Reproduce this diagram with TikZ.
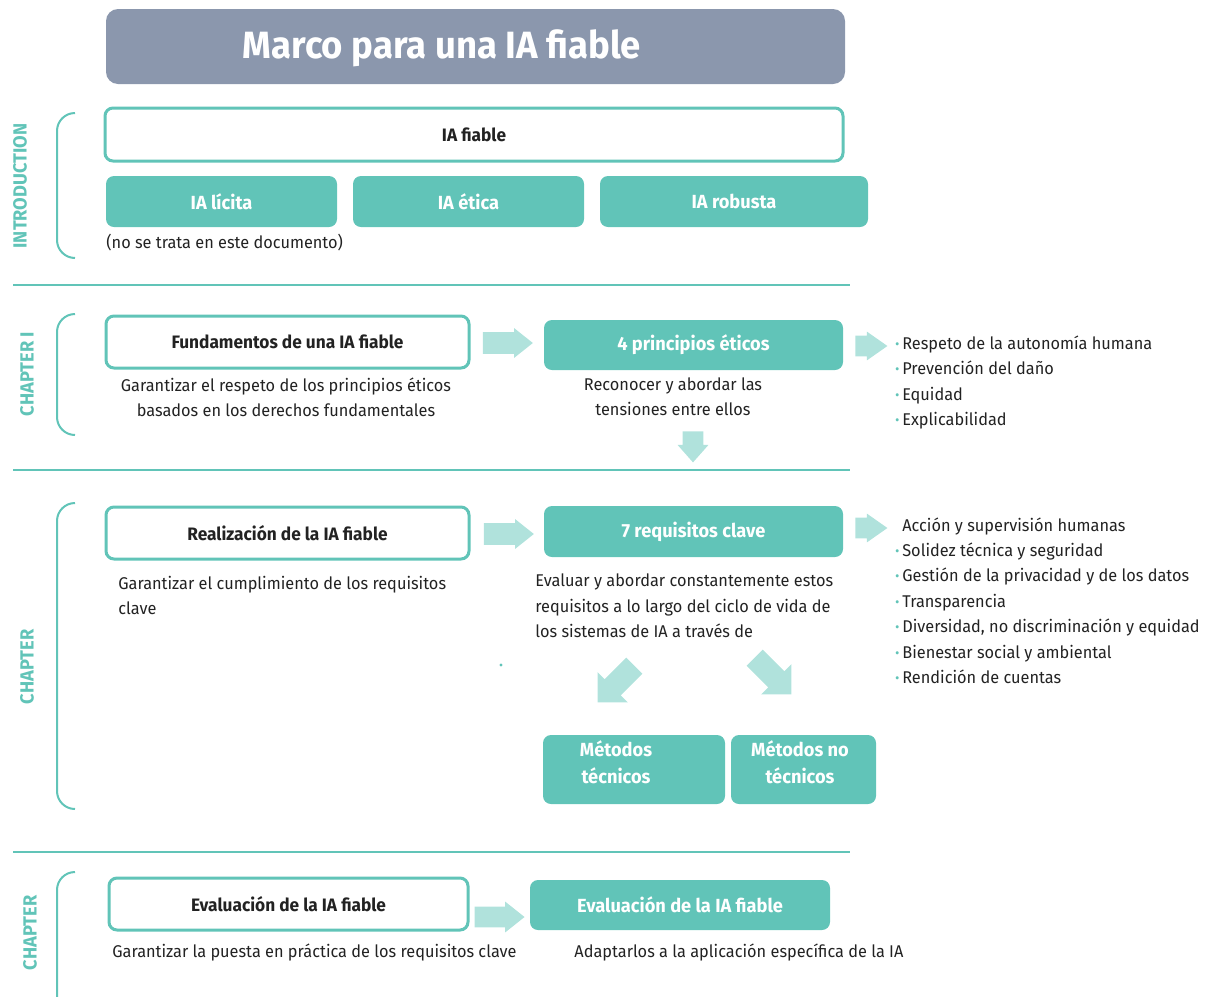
\documentclass[tikz,border=0pt]{standalone}
\usepackage{fontspec}
\setmainfont[FakeStretch=0.96]{Fira Sans}
\usetikzlibrary{shapes.arrows}

\definecolor{tealc}{HTML}{61C4B8}
\definecolor{lightc}{HTML}{B0E2DC}
\definecolor{greyc}{HTML}{8B97AD}
\definecolor{textc}{HTML}{222222}
\newcommand\bul{\textcolor{tealc}{\textbf{·}}\hspace{1.5pt}}

\begin{document}
\begin{tikzpicture}[x=0.5pt,y=-0.5pt,
  wbox/.style={draw=tealc,line width=1.5pt,fill=white,rounded corners=4pt,font=\fontsize{9}{11}\selectfont\bfseries,text=textc},
  tbox/.style={fill=tealc,rounded corners=4pt,font=\fontsize{9.5}{13.5}\selectfont\bfseries,text=white},
  body/.style={font=\fontsize{8.5}{12.7}\selectfont,text=textc,inner sep=0pt},
  blk/.style={single arrow,fill=lightc,inner xsep=0pt,single arrow head indent=0pt},
  chap/.style={rotate=90,font=\fontsize{9.5}{11}\selectfont\bfseries,text=tealc},
  brace/.style={draw=tealc,line width=1pt,rounded corners=9pt},
  divline/.style={draw=tealc,line width=1pt}]
  \useasboundingbox (0,0) rectangle (1208,996);

  % introduction
  \node[fill=greyc,rounded corners=6pt,minimum width=369.5pt,minimum height=37.5pt] (marco) at (475.5,46.5) {};
  \node[font=\fontsize{19}{23}\selectfont\bfseries,text=white] (titulo) at (442,48) {Marco para una IA fiable};
  \node[wbox,minimum width=369pt,minimum height=26.5pt] (fiable) at (474,134.5) {IA fiable};
  \node[tbox,minimum width=115.5pt,minimum height=25.5pt] (licita) at (221.5,201.5) {IA lícita};
  \node[tbox,minimum width=115.5pt,minimum height=25.5pt] (etica) at (468.5,201.5) {IA ética};
  \node[tbox,minimum width=134pt,minimum height=25.5pt] (robusta) at (734,201.5) {IA robusta};
  \node[body,anchor=west] (nota) at (106,243) {(no se trata en este documento)};
  \node[chap] (intro) at (20,186) {INTRODUCTION};
  \draw[brace] (75,113) -| (57,258) -- (75,258);
  \draw[divline] (13,285) -- (850,285);

  % chapter I
  \node[chap] (cap1) at (27,374) {CHAPTER I};
  \draw[brace] (75,314) -| (57,435) -- (75,435);
  \node[wbox,minimum width=181.5pt,minimum height=26pt] (fund) at (287.5,342) {Fundamentos de una IA fiable};
  \node[body,align=center] (fundtxt) at (286,397.5) {Garantizar el respeto de los principios éticos\\basados en los derechos fundamentales};
  \node[blk,minimum height=25pt,inner ysep=5.25pt,single arrow head extend=2pt,single arrow tip angle=77] (f1) at (501,343) {};
  \node[tbox,minimum width=149.5pt,minimum height=25pt] (princ) at (693.5,345) {4 principios éticos};
  \node[body,align=center] (princtxt) at (673,397) {Reconocer y abordar las\\tensiones entre ellos};
  \node[blk,rotate=-90,minimum height=15.5pt,inner ysep=5pt,single arrow head extend=2.5pt,single arrow tip angle=83] (f2) at (693,441) {};
  \node[blk,minimum height=16pt,inner ysep=5pt,single arrow head extend=2pt,single arrow tip angle=70] (f3) at (864,346) {};
  \node[body,align=left,anchor=west] (principios) at (895,382.5) {\bul Respeto de la autonomía humana\\\bul Prevención del daño\\\bul Equidad\\\bul Explicabilidad};
  \draw[divline] (13,470) -- (850,470);

  % chapter II
  \node[chap] (cap2) at (27,667) {CHAPTER};
  \draw[brace] (75,503) -| (57,809) -- (75,809);
  \node[wbox,minimum width=181.5pt,minimum height=26pt] (real) at (287.5,533) {Realización de la IA fiable};
  \node[body,align=left,anchor=west] (realtxt) at (118,595.5) {Garantizar el cumplimiento de los requisitos\\clave};
  \node[blk,minimum height=25pt,inner ysep=5.25pt,single arrow head extend=2pt,single arrow tip angle=77] (f4) at (502,534) {};
  \node[tbox,minimum width=149.5pt,minimum height=25.5pt] (req) at (693.5,531.5) {7 requisitos clave};
  \node[body,align=left,anchor=west] (reqtxt) at (535,606) {Evaluar y abordar constantemente estos\\requisitos a lo largo del ciclo de vida de\\los sistemas de IA a través de};
  \node[blk,minimum height=16pt,inner ysep=5pt,single arrow head extend=2pt,single arrow tip angle=70] (f5) at (864,528) {};
  \node[body,align=left,anchor=west] (requisitos) at (895,600.5) {\phantom{\bul}Acción y supervisión humanas\\\bul Solidez técnica y seguridad\\\bul Gestión de la privacidad y de los datos\\\bul Transparencia\\\bul Diversidad, no discriminación y equidad\\\bul Bienestar social y ambiental\\\bul Rendición de cuentas};
  \fill[tealc] (501,665) circle (0.8pt);
  \node[blk,rotate=-135,minimum height=26pt,inner ysep=5.5pt,single arrow head extend=5pt,single arrow tip angle=90] (f6) at (620,680) {};
  \node[blk,rotate=-45,minimum height=26pt,inner ysep=5.5pt,single arrow head extend=5pt,single arrow tip angle=90] (f7) at (769,672) {};
  \node[tbox,minimum width=91pt,minimum height=34.5pt] (tec) at (634,769.5) {};
  \node[tbox,fill=none,align=center] (tectxt) at (616,762) {Métodos\\técnicos};
  \node[tbox,minimum width=72.5pt,minimum height=34.5pt] (notec) at (803.5,769.5) {};
  \node[tbox,fill=none,align=center] (notectxt) at (800,762) {Métodos no\\técnicos};
  \draw[divline] (13,852) -- (850,852);

  % chapter III
  \node[chap] (cap3) at (30,933) {CHAPTER};
  \draw[brace] (75,872) -| (57,1010);
  \node[wbox,minimum width=179.5pt,minimum height=26pt] (eval1) at (288.5,904) {Evaluación de la IA fiable};
  \node[blk,minimum height=25pt,inner ysep=5pt,single arrow head extend=2.5pt,single arrow tip angle=77] (f8) at (493,917) {};
  \node[tbox,minimum width=150pt,minimum height=25pt] (eval2) at (680,905) {Evaluación de la IA fiable};
  \node[body,anchor=west] (eval1txt) at (112,952) {Garantizar la puesta en práctica de los requisitos clave};
  \node[body,anchor=west] (eval2txt) at (574,952) {Adaptarlos a la aplicación específica de la IA};
\end{tikzpicture}
\end{document}
